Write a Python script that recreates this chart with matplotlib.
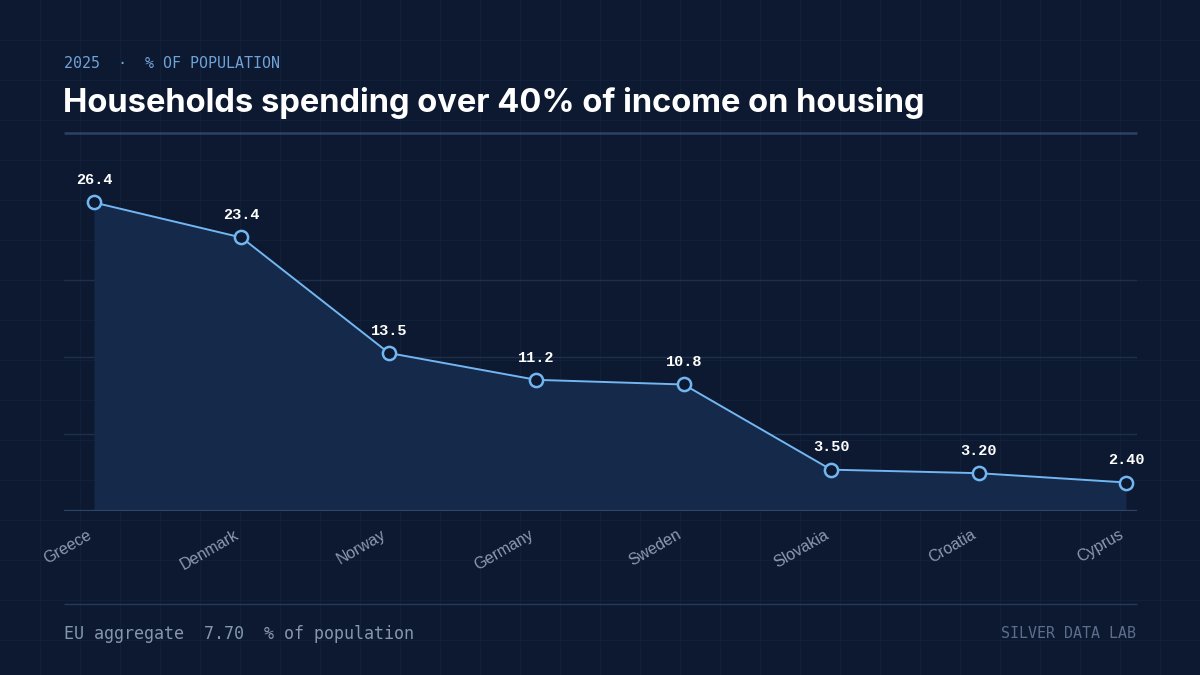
import matplotlib
matplotlib.use("Agg")
import matplotlib.pyplot as plt
import numpy as np

countries = ["Greece", "Denmark", "Norway", "Germany", "Sweden", "Slovakia", "Croatia", "Cyprus"]
values = [26.4, 23.4, 13.5, 11.2, 10.8, 3.50, 3.20, 2.40]
value_labels = ["26.4", "23.4", "13.5", "11.2", "10.8", "3.50", "3.20", "2.40"]
eyebrow = "2025  ·  % OF POPULATION"
title = "Households spending over 40% of income on housing"
footer_left = "EU aggregate  7.70  % of population"
footer_right = "SILVER DATA LAB"

BG = "#0c1930"
FILL = "#15294a"
LINE = "#72b6f2"
GRID = "#1e2f4d"
BGGRID = "#112039"

W, H = 1200, 675
fig = plt.figure(figsize=(12, 6.75), dpi=100, facecolor=BG)

# background grid
bg = fig.add_axes([0, 0, 1, 1], zorder=-10)
bg.set_xlim(0, W); bg.set_ylim(H, 0)
bg.set_facecolor(BG)
bg.axis("off")
for gx in range(40, W, 40):
    bg.axvline(gx, color=BGGRID, lw=0.8, zorder=0)
for gy in range(40, H, 40):
    bg.axhline(gy, color=BGGRID, lw=0.8, zorder=0)
# header & footer rules
bg.plot([64, 1137], [132.5, 132.5], color="#2c4266", lw=1.8, solid_capstyle="butt")
bg.plot([64, 1137], [603.5, 603.5], color="#263a5a", lw=1.0, solid_capstyle="butt")

fig.text(64/W, 1 - 63/H, eyebrow, color="#6fa3d8", fontsize=10.8,
         family="DejaVu Sans Mono", va="center", ha="left")
fig.text(63/W, 1 - 103/H, title, color="white", fontsize=23.5, fontweight="bold",
         family="Inter", va="center", ha="left")
fig.text(64/W, 1 - 634/H, footer_left, color="#8796b0", fontsize=12,
         family="DejaVu Sans Mono", va="center", ha="left")
fig.text(1136/W, 1 - 634/H, footer_right, color="#5d6e8c", fontsize=10.8,
         family="DejaVu Sans Mono", va="center", ha="right")

# main axes: pixel box left 64, right 1137, baseline 510.5, top 160
left, right, bottom, top = 64, 1137, 510.5, 160
ax = fig.add_axes([left/W, 1 - bottom/H, (right-left)/W, (bottom-top)/H])
ax.set_facecolor("none")
x = np.arange(len(countries))
px_per_unit = (1126 - 94) / 7
ax.set_xlim(-(94-64)/px_per_unit, 7 + (1137-1126)/px_per_unit)
ypu = (482 - 202) / (26.4 - 2.4)
ax.set_ylim(0, (bottom - top) / ypu)

for s in ax.spines.values():
    s.set_visible(False)
ymax = max(values)
for gy in np.linspace(0, ymax, 5)[1:4]:
    ax.axhline(gy, color=GRID, lw=1.0, zorder=1)
ax.axhline(0, color="#2f4669", lw=1.6, zorder=4)

ax.fill_between(x, values, 0, color=FILL, zorder=2, lw=0)
ax.plot(x, values, color=LINE, lw=1.4, zorder=5, marker="o", ms=9.5,
        mfc=BG, mec=LINE, mew=1.8, clip_on=False)
for xi, v, lab in zip(x, values, value_labels):
    ax.annotate(lab, (xi, v), xytext=(0, 11), textcoords="offset points",
                ha="center", va="bottom", color="white", fontsize=11,
                fontweight="bold", family="Liberation Mono", zorder=6)

ax.set_yticks([])
ax.set_xticks(x)
ax.set_xticklabels(countries, rotation=30, ha="right", va="top",
                   color="#8d9ab3", fontsize=11.5, family="Liberation Sans")
ax.tick_params(axis="x", length=0, pad=12)

fig.savefig("out.png", dpi=100, facecolor=BG)
